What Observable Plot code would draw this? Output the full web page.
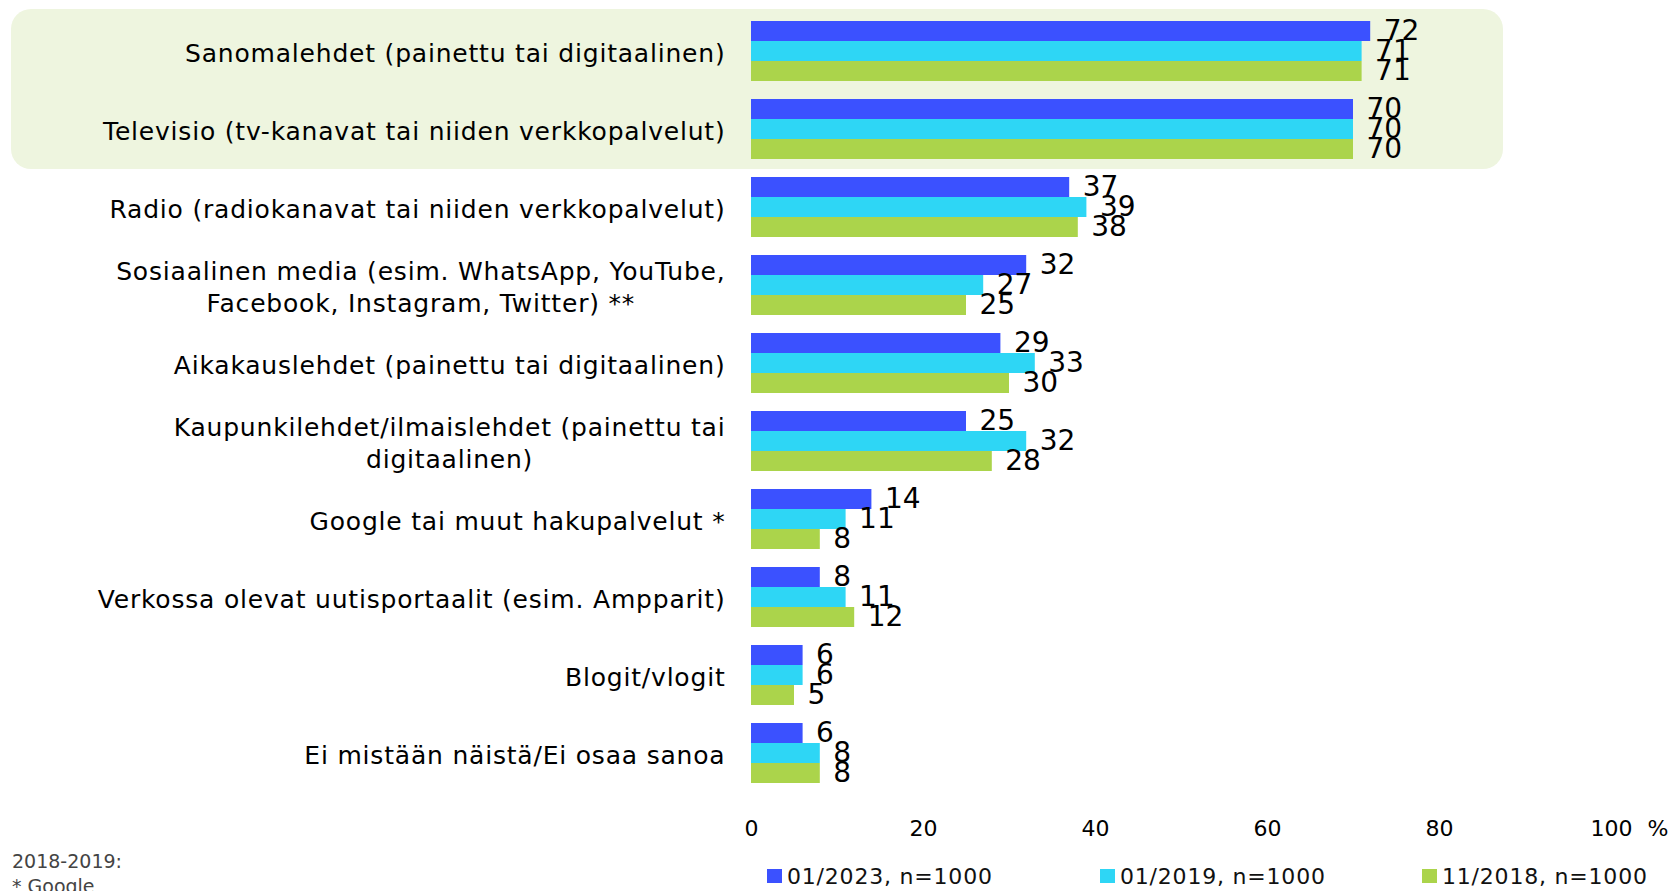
<!DOCTYPE html>
<html><head><meta charset="utf-8">
<script src="https://cdn.jsdelivr.net/npm/d3@7"></script>
<script src="https://cdn.jsdelivr.net/npm/@observablehq/plot@0.6"></script>
<style>
body{margin:0;background:#fff;font-family:"DejaVu Sans",sans-serif;}
#wrap{position:relative;width:1675px;height:891px;overflow:hidden;}
#chart svg{display:block;}
#legend{position:absolute;top:864px;left:0;width:1675px;height:24px;}
.li{position:absolute;top:0;display:flex;align-items:center;height:24px;font-size:22px;letter-spacing:0.8px;color:#111;white-space:nowrap;}
.sw{width:15px;height:14px;margin-right:5px;}
#note{position:absolute;left:12px;top:849px;font-size:19px;line-height:25px;color:#444;}
</style></head><body>
<div id="wrap"><div id="chart"></div><div id="legend"></div><div id="note">2018-2019:<br>* Google</div></div>
<script>
const categories = [
  "Sanomalehdet (painettu tai digitaalinen)",
  "Televisio (tv-kanavat tai niiden verkkopalvelut)",
  "Radio (radiokanavat tai niiden verkkopalvelut)",
  "Sosiaalinen media (esim. WhatsApp, YouTube,\nFacebook, Instagram, Twitter) **",
  "Aikakauslehdet (painettu tai digitaalinen)",
  "Kaupunkilehdet/ilmaislehdet (painettu tai\ndigitaalinen)",
  "Google tai muut hakupalvelut *",
  "Verkossa olevat uutisportaalit (esim. Ampparit)",
  "Blogit/vlogit",
  "Ei mistään näistä/Ei osaa sanoa"
];
const seriesNames = ["01/2023, n=1000", "01/2019, n=1000", "11/2018, n=1000"];
const v2023 = [72, 70, 37, 32, 29, 25, 14, 8, 6, 6];
const v2019 = [71, 70, 39, 27, 33, 32, 11, 11, 6, 8];
const v2018 = [71, 70, 38, 25, 30, 28, 8, 12, 5, 8];
const colors = ["#3b51ff", "#2ed6f5", "#abd44b"];
const xTicks = [0, 20, 40, 60, 80, 100];
const unitLabel = "%";
const highlighted = [categories[0], categories[1]];

const seriesValues = [v2023, v2019, v2018];
const data = [];
categories.forEach((c, i) => seriesValues.forEach((arr, j) => data.push({cat: c, series: seriesNames[j], value: arr[i]})));

const plot = Plot.plot({
  width: 1675, height: 845,
  marginLeft: 751, marginRight: 64, marginTop: 8, marginBottom: 50,
  style: {fontFamily: "DejaVu Sans", background: "transparent", color: "#000"},
  x: {domain: [0, 100]},
  y: {domain: seriesNames, axis: null, padding: 0},
  fy: {domain: categories, paddingInner: 0.237, paddingOuter: 0.1185, label: null},
  color: {domain: seriesNames, range: colors},
  marks: [
    Plot.barX(data, {fy: "cat", y: "series", x: "value", fill: "series"}),
    Plot.text(data, {fy: "cat", y: "series", x: "value", text: d => String(d.value), dx: 13, textAnchor: "start", fontSize: 28, fill: "#000"}),
    Plot.axisX({ticks: xTicks, tickSize: 0, tickPadding: 37, fontSize: 22, label: null}),
    Plot.axisFy({anchor: "left", tickSize: 0, tickPadding: 26, fontSize: 25, label: null, lineHeight: 1.3})
  ]
});
document.getElementById("chart").appendChild(plot);

// letter spacing for category labels
plot.querySelectorAll('g[aria-label="fy-axis tick label"]').forEach(g => g.setAttribute("letter-spacing", "0.8"));

// highlight band behind the first two categories
const fy = plot.scale("fy"), xs = plot.scale("x");
const ns = "http://www.w3.org/2000/svg";
const top0 = fy.apply(highlighted[0]) - 12;
const bot1 = fy.apply(highlighted[1]) + fy.bandwidth + 10;
const rect = document.createElementNS(ns, "rect");
rect.setAttribute("x", 11); rect.setAttribute("y", top0);
rect.setAttribute("width", 1503 - 11); rect.setAttribute("height", bot1 - top0);
rect.setAttribute("rx", 20); rect.setAttribute("fill", "#eef5df");
plot.insertBefore(rect, plot.firstChild);

// centre multi-line category labels
plot.querySelectorAll('g[aria-label="fy-axis tick label"] text').forEach(t => {
  const spans = t.querySelectorAll("tspan");
  if (spans.length > 1) {
    let m = 0;
    spans.forEach(s => m = Math.max(m, s.getComputedTextLength()));
    t.setAttribute("text-anchor", "middle");
    spans.forEach(s => s.setAttribute("x", -m / 2));
  }
});

// unit label next to the x axis
const last = categories[categories.length - 1];
const pct = document.createElementNS(ns, "text");
pct.setAttribute("x", xs.apply(100) + 47);
pct.setAttribute("y", fy.apply(last) + fy.bandwidth + 37);
pct.setAttribute("dy", "0.71em");
pct.setAttribute("font-size", 22);
pct.textContent = unitLabel;
plot.appendChild(pct);

// legend
const legendX = [767, 1100, 1422];
const lg = document.getElementById("legend");
seriesNames.forEach((s, i) => {
  const d = document.createElement("div");
  d.className = "li"; d.style.left = legendX[i] + "px";
  d.innerHTML = `<span class="sw" style="background:${colors[i]}"></span>${s}`;
  lg.appendChild(d);
});
</script>
</body></html>
